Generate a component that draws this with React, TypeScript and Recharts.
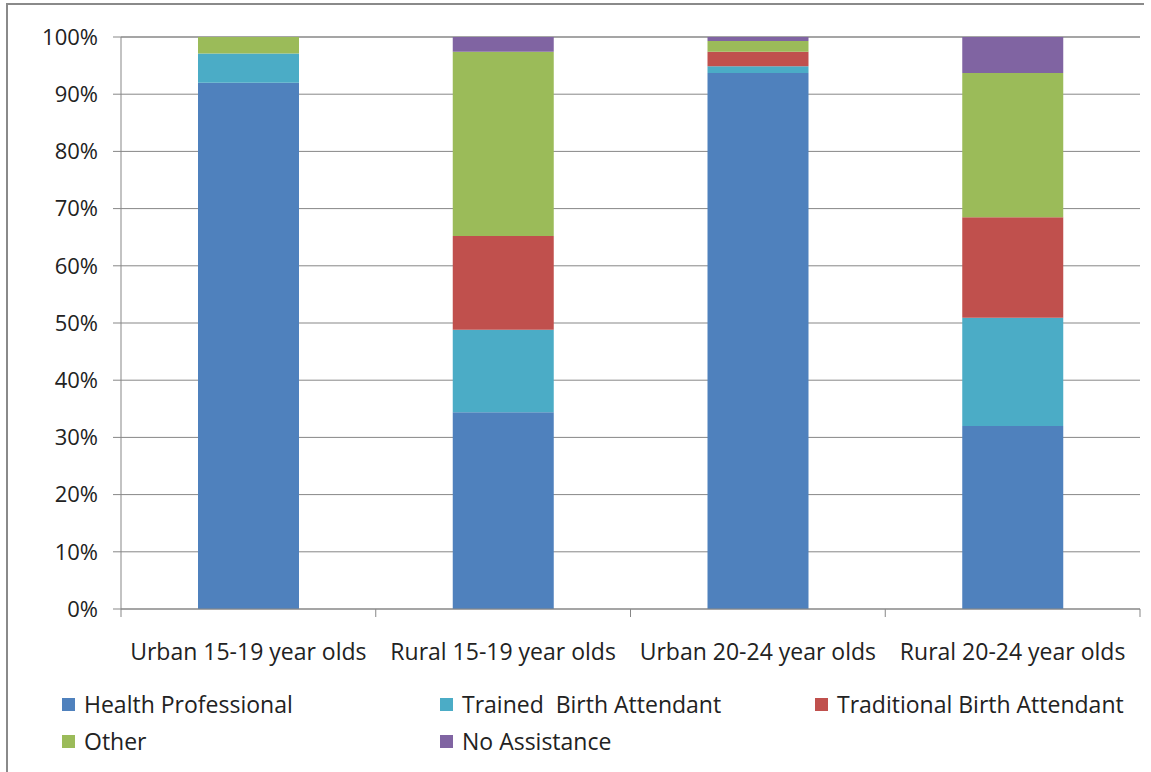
import React from 'react';
import { BarChart, Bar, XAxis, YAxis, CartesianGrid } from 'recharts';

// Categories and series values (percent of births)
const groups = [
  'Urban 15-19 year olds',
  'Rural 15-19 year olds',
  'Urban 20-24 year olds',
  'Rural 20-24 year olds',
];
const healthProfessional = [92.0, 34.4, 93.7, 32.0];
const trainedBirthAttendant = [5.1, 14.4, 1.2, 18.9];
const traditionalBirthAttendant = [0, 16.4, 2.5, 17.6];
const other = [2.9, 32.2, 1.9, 25.2];
const noAssistance = [0, 2.6, 0.7, 6.3];
const yTicks = [0, 10, 20, 30, 40, 50, 60, 70, 80, 90, 100];

const series = [
  { key: 'hp', name: 'Health Professional', color: '#4F81BD', values: healthProfessional },
  { key: 'tba', name: 'Trained  Birth Attendant', color: '#4BACC6', values: trainedBirthAttendant },
  { key: 'trad', name: 'Traditional Birth Attendant', color: '#C0504D', values: traditionalBirthAttendant },
  { key: 'other', name: 'Other', color: '#9BBB59', values: other },
  { key: 'na', name: 'No Assistance', color: '#8064A2', values: noAssistance },
];

const data = groups.map((g, i) => {
  const row: Record<string, any> = { name: g };
  series.forEach((s) => {
    row[s.key] = s.values[i];
  });
  return row;
});

const FONT = '"Open Sans", sans-serif';
const GRID = '#878787';
const W = 1151;
const H = 690;
const M = { top: 37, right: 11, left: 0, bottom: 30 };
const Y_WIDTH = 121;
const X_HEIGHT = 51;
const PLOT_BOTTOM = H - M.bottom - X_HEIGHT;
const BAND = (W - M.left - M.right - Y_WIDTH) / groups.length;

const XTick = (props: any) => {
  const { x, payload, index } = props;
  const left = x - BAND / 2;
  const right = x + BAND / 2;
  return (
    <g>
      <line x1={left} y1={PLOT_BOTTOM} x2={left} y2={PLOT_BOTTOM + 8} stroke={GRID} />
      {index === groups.length - 1 && (
        <line x1={right} y1={PLOT_BOTTOM} x2={right} y2={PLOT_BOTTOM + 8} stroke={GRID} />
      )}
      <text
        x={x}
        y={PLOT_BOTTOM + 51}
        textAnchor="middle"
        fill="#222"
        fontSize={23}
        fontFamily={FONT}
      >
        {payload.value}
      </text>
    </g>
  );
};

const legendCols = [62, 440, 815];
const legendRows = [704, 741];

const App: React.FC = () => {
  return (
    <div
      style={{
        position: 'absolute',
        left: 0,
        top: 0,
        width: W,
        height: 772,
        background: '#fff',
        fontFamily: FONT,
        overflow: 'hidden',
      }}
    >
      <div
        style={{
          position: 'absolute',
          left: 6,
          top: 3,
          width: 1136,
          height: 800,
          borderLeft: '2px solid #8a8a8a',
          borderTop: '2px solid #8a8a8a',
        }}
      />
      <div style={{ position: 'absolute', left: 0, top: 0 }}>
        <BarChart width={W} height={H} data={data} margin={M} barSize={101}>
          <CartesianGrid vertical={false} stroke={GRID} />
          <XAxis
            dataKey="name"
            height={X_HEIGHT}
            stroke={GRID}
            tickLine={false}
            tick={<XTick />}
            interval={0}
          />
          <YAxis
            width={Y_WIDTH}
            domain={[0, 100]}
            ticks={yTicks}
            tickFormatter={(v: number) => `${v}%`}
            stroke={GRID}
            tickSize={8}
            tickMargin={15}
            tick={{ fill: '#222', fontSize: 22, fontFamily: FONT }}
            interval={0}
          />
          {series.map((s) => (
            <Bar
              key={s.key}
              dataKey={s.key}
              name={s.name}
              stackId="a"
              fill={s.color}
              isAnimationActive={false}
            />
          ))}
        </BarChart>
      </div>
      {series.map((s, i) => {
        const col = legendCols[i % 3];
        const row = legendRows[Math.floor(i / 3)];
        return (
          <div
            key={s.key}
            style={{
              position: 'absolute',
              left: col,
              top: row - 16,
              height: 32,
              display: 'flex',
              alignItems: 'center',
              fontSize: 23,
              color: '#222',
              whiteSpace: 'pre',
            }}
          >
            <span
              style={{
                display: 'inline-block',
                width: 13,
                height: 13,
                background: s.color,
                marginRight: 9,
              }}
            />
            {s.name}
          </div>
        );
      })}
    </div>
  );
};

export default App;
